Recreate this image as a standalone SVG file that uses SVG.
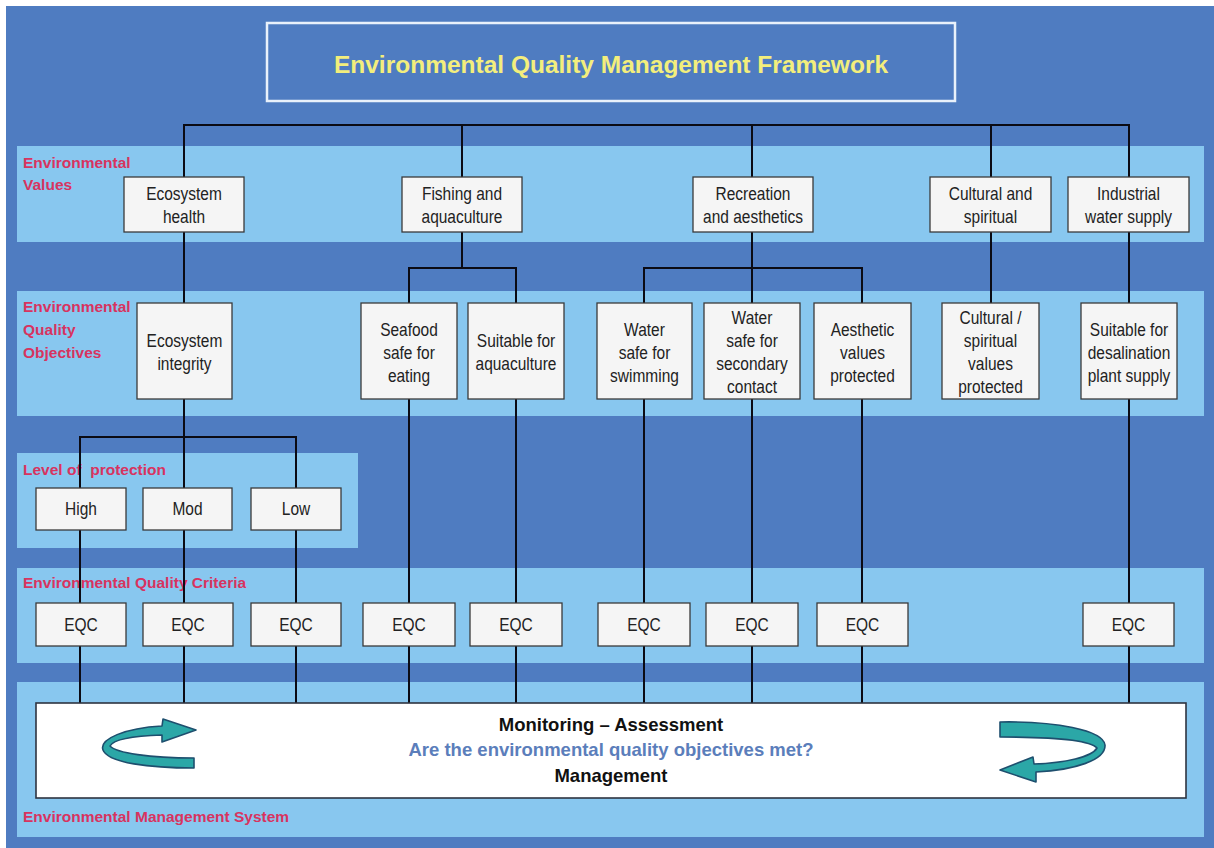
<svg xmlns="http://www.w3.org/2000/svg" width="1214" height="848" viewBox="0 0 1214 848">
<style>
.band{fill:#88C7EF}
.lbl{font-family:"Liberation Sans",Arial,sans-serif;font-weight:bold;font-size:15.5px;fill:#D8335F;white-space:pre}
.box{fill:#F5F5F5;stroke:#3A3A3A;stroke-width:1.3}
.t{font-family:"Liberation Sans",Arial,sans-serif;font-size:15.5px;fill:#222;text-anchor:middle;transform-box:fill-box;transform-origin:center;transform:scaleY(1.15)}
.conn{fill:none;stroke:#0B0B14;stroke-width:2}
.bt{font-family:"Liberation Sans",Arial,sans-serif;font-weight:bold;font-size:18.5px;text-anchor:middle}
.arrow{fill:#2BA7A7;stroke:#1E4F6E;stroke-width:1.6;stroke-linejoin:round}
</style>
<rect x="0" y="0" width="1214" height="848" fill="#FFFFFF"/>
<rect x="6" y="6" width="1208" height="842" fill="#4F7CC1"/>
<g id="bands">
<rect class="band" x="17" y="146" width="1187" height="96"/>
<rect class="band" x="17" y="291" width="1187" height="125"/>
<rect class="band" x="17" y="453" width="341" height="95"/>
<rect class="band" x="17" y="568" width="1187" height="95"/>
<rect class="band" x="17" y="682" width="1187" height="155"/>
</g>
<g id="labels">
<text class="lbl" x="23" y="168">Environmental</text>
<text class="lbl" x="23" y="190">Values</text>
<text class="lbl" x="23" y="312">Environmental</text>
<text class="lbl" x="23" y="335">Quality</text>
<text class="lbl" x="23" y="358">Objectives</text>
<text class="lbl" x="23" y="475">Level of  protection</text>
<text class="lbl" x="23" y="588">Environmental Quality Criteria</text>
<text class="lbl" x="23" y="822">Environmental Management System</text>
</g>
<g id="title">
<rect x="267" y="23" width="688" height="78" fill="none" stroke="#E9F1FB" stroke-width="2.5"/>
<text x="611" y="73" text-anchor="middle" font-family="Liberation Sans, Arial, sans-serif" font-weight="bold" font-size="24.5" fill="#F3EE7C">Environmental Quality Management Framework</text>
</g>
<g id="connectors">
<path class="conn" d="M184 177 V125 H1129 V177 M462 125 V177 M752 125 V177 M991 125 V177"/>
<path class="conn" d="M184 232 V303 M462 232 V268 M409 303 V268 H516 V303 M752 232 V303 M644 303 V268 H862 V303 M991 232 V303 M1129 232 V303"/>
<path class="conn" d="M184 399 V488 M80 488 V437 H296 V488"/>
<path class="conn" d="M80 530 V703 M184 530 V703 M296 530 V703 M409 399 V703 M516 399 V703 M644 399 V703 M752 399 V703 M862 399 V703 M1129 399 V703"/>
</g>
<g id="ev-ecosystem-health"><rect class="box" x="124" y="177" width="120" height="55"/><text class="t" x="184" y="199">Ecosystem</text><text class="t" x="184" y="222">health</text></g>
<g id="ev-fishing"><rect class="box" x="402" y="177" width="120" height="55"/><text class="t" x="462" y="199">Fishing and</text><text class="t" x="462" y="222">aquaculture</text></g>
<g id="ev-recreation"><rect class="box" x="693" y="177" width="120" height="55"/><text class="t" x="753" y="199">Recreation</text><text class="t" x="753" y="222">and aesthetics</text></g>
<g id="ev-cultural"><rect class="box" x="930" y="177" width="121" height="55"/><text class="t" x="990.5" y="199">Cultural and</text><text class="t" x="990.5" y="222">spiritual</text></g>
<g id="ev-industrial"><rect class="box" x="1068" y="177" width="121" height="55"/><text class="t" x="1128.5" y="199">Industrial</text><text class="t" x="1128.5" y="222">water supply</text></g>
<g id="eqo-ecosystem-integrity"><rect class="box" x="137" y="303" width="95" height="96"/><text class="t" x="184.5" y="346">Ecosystem</text><text class="t" x="184.5" y="369">integrity</text></g>
<g id="eqo-seafood"><rect class="box" x="361" y="303" width="96" height="96"/><text class="t" x="409" y="335">Seafood</text><text class="t" x="409" y="358">safe for</text><text class="t" x="409" y="381">eating</text></g>
<g id="eqo-aquaculture"><rect class="box" x="468" y="303" width="96" height="96"/><text class="t" x="516" y="346">Suitable for</text><text class="t" x="516" y="369">aquaculture</text></g>
<g id="eqo-swimming"><rect class="box" x="597" y="303" width="95" height="96"/><text class="t" x="644.5" y="335">Water</text><text class="t" x="644.5" y="358">safe for</text><text class="t" x="644.5" y="381">swimming</text></g>
<g id="eqo-secondary"><rect class="box" x="704" y="303" width="96" height="96"/><text class="t" x="752" y="323">Water</text><text class="t" x="752" y="346">safe for</text><text class="t" x="752" y="369">secondary</text><text class="t" x="752" y="392">contact</text></g>
<g id="eqo-aesthetic"><rect class="box" x="814" y="303" width="97" height="96"/><text class="t" x="862.5" y="335">Aesthetic</text><text class="t" x="862.5" y="358">values</text><text class="t" x="862.5" y="381">protected</text></g>
<g id="eqo-cultural"><rect class="box" x="942" y="303" width="97" height="96"/><text class="t" x="990.5" y="323">Cultural /</text><text class="t" x="990.5" y="346">spiritual</text><text class="t" x="990.5" y="369">values</text><text class="t" x="990.5" y="392">protected</text></g>
<g id="eqo-desalination"><rect class="box" x="1081" y="303" width="96" height="96"/><text class="t" x="1129" y="335">Suitable for</text><text class="t" x="1129" y="358">desalination</text><text class="t" x="1129" y="381">plant supply</text></g>
<g id="lp-high"><rect class="box" x="36" y="488" width="90" height="42"/><text class="t" x="81" y="514">High</text></g>
<g id="lp-mod"><rect class="box" x="143" y="488" width="89" height="42"/><text class="t" x="187.5" y="514">Mod</text></g>
<g id="lp-low"><rect class="box" x="251" y="488" width="90" height="42"/><text class="t" x="296" y="514">Low</text></g>
<g id="eqc-1"><rect class="box" x="36" y="603" width="90" height="43"/><text class="t" x="81" y="630">EQC</text></g>
<g id="eqc-2"><rect class="box" x="143" y="603" width="90" height="43"/><text class="t" x="188" y="630">EQC</text></g>
<g id="eqc-3"><rect class="box" x="251" y="603" width="90" height="43"/><text class="t" x="296" y="630">EQC</text></g>
<g id="eqc-4"><rect class="box" x="363" y="603" width="92" height="43"/><text class="t" x="409" y="630">EQC</text></g>
<g id="eqc-5"><rect class="box" x="470" y="603" width="92" height="43"/><text class="t" x="516" y="630">EQC</text></g>
<g id="eqc-6"><rect class="box" x="598" y="603" width="92" height="43"/><text class="t" x="644" y="630">EQC</text></g>
<g id="eqc-7"><rect class="box" x="706" y="603" width="92" height="43"/><text class="t" x="752" y="630">EQC</text></g>
<g id="eqc-8"><rect class="box" x="817" y="603" width="91" height="43"/><text class="t" x="862.5" y="630">EQC</text></g>
<g id="eqc-9"><rect class="box" x="1083" y="603" width="91" height="43"/><text class="t" x="1128.5" y="630">EQC</text></g>
<g id="ems">
<rect x="36" y="703" width="1150" height="95" fill="#FFFFFF" stroke="#2E3440" stroke-width="1.6"/>
<text class="bt" x="611" y="731" fill="#111">Monitoring – Assessment</text>
<text class="bt" x="611" y="756" fill="#5B7EBB">Are the environmental quality objectives met?</text>
<text class="bt" x="611" y="782" fill="#111">Management</text>
<path class="arrow" d="M194 768 C150 768 108 763 103 750 C99 739 125 728 162 726 L163 719 L196 730 L162 742 L162 735 C132 736 113 740 110 746 C116 753 150 758 194 758 Z"/>
<path class="arrow" d="M1000 722 C1055 721 1103 730 1105 745 C1106 760 1075 770 1036 772 L1036 782 L1000 770 L1033 757 L1034 764 C1065 763 1092 757 1097 748 C1090 740 1050 737 1000 737 Z"/>
</g>
</svg>
